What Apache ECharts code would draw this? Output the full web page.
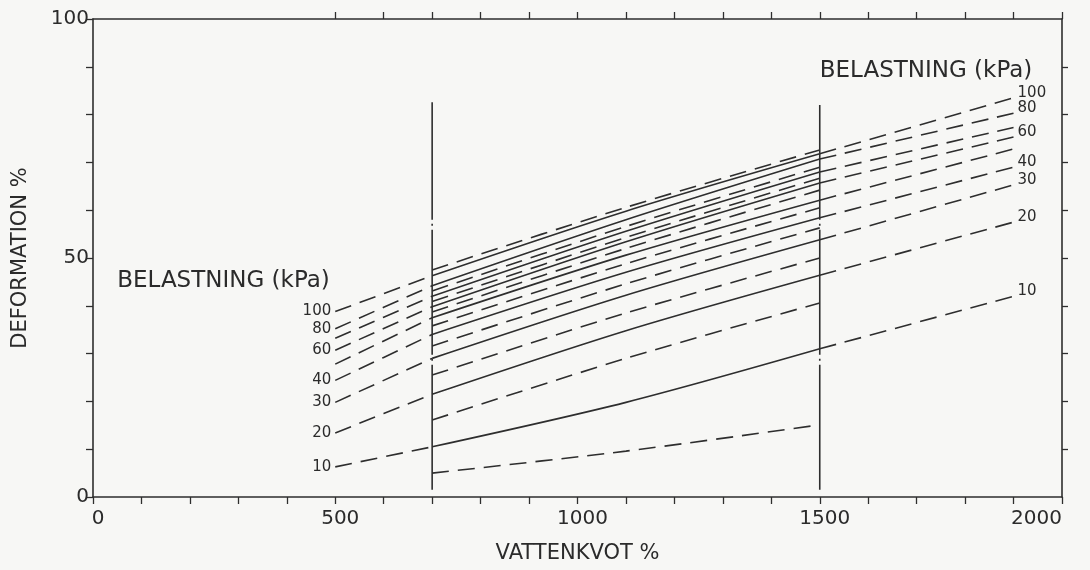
<!DOCTYPE html>
<html>
<head>
<meta charset="utf-8">
<script src="https://cdn.jsdelivr.net/npm/echarts@6/dist/echarts.min.js"></script>
<style>
  html, body { margin: 0; padding: 0; background: #f7f7f5; }
  #chart { width: 1090px; height: 570px; }
</style>
</head>
<body>
<div id="chart"></div>
<script>
// loads (kPa), bottom to top; unlabeled curves have an empty label
const loads = [10, 20, 30, 40, 50, 60, 70, 80, 100];
const loadLabels = ['10', '20', '30', '40', '', '60', '', '80', '100'];

// water content (%) where the pieces start / end
const wStart = 500, wIn = 700, wMid = 1100, wOut = 1500, wEnd = 1900;

// upper curves: dashed 500-700, solid 700-1500, dashed 1500-1900
const upAt500   = [6.3, 13.4, 19.8, 24.4, 27.8, 30.7, 33.2, 35.2, 38.8];
const solidAt700  = [10.5, 21.5, 29.0, 34.0, 37.5, 39.8, 42.0, 44.2, 46.3];
const solidAt1100 = [19.8, 34.8, 42.2, 47.0, 50.6, 53.4, 55.6, 58.0, 59.8];
const solidAt1500 = [31.0, 46.4, 53.8, 58.4, 62.1, 65.7, 68.0, 70.7, 71.8];
const upAt1900  = [42.0, 57.5, 65.3, 69.0, 72.8, 75.3, 77.3, 80.3, 83.5];

// lower dashed curves, 700-1500 only
const innerAt700  = [5.0, 16.1, 25.5, 31.6, 35.8, 38.7, 40.9, 43.1, 47.5];
const innerAt1100 = [9.6, 29.0, 38.5, 44.6, 48.8, 52.0, 54.3, 56.6, 60.6];
const innerAt1500 = [15.1, 40.6, 50.0, 56.3, 60.5, 64.2, 66.7, 69.0, 72.6];

// dash-dot limits at 700 and 1500
const limitX = [700, 1500];
const limitY = [[1.5, 82.6], [1.5, 82.0]];

const xTicks = [];
for (let v = 0; v <= 2000; v += 100) xTicks.push(v);
const xTopTicks = xTicks.filter(v => v >= 500);
const xLabels = [0, 500, 1000, 1500, 2000];
const yTicks = [0, 10, 20, 30, 40, 50, 60, 70, 80, 90, 100];
const yRightTicks = [10, 20, 30, 40, 50, 60, 70, 80, 90];
const yLabels = [0, 50, 100];

const ink = '#2e2e2e';
const textInk = '#2b2b2b';
const font = "'DejaVu Sans', sans-serif";
const dash = [17, 9];

function curve(data, type) {
  return {
    type: 'line', data: data, smooth: 0.3, symbol: 'none', silent: true,
    lineStyle: { color: ink, width: 1.6, type: type }
  };
}

const series = [];
loads.forEach((l, i) => {
  series.push(curve([[wStart, upAt500[i]], [wIn, solidAt700[i]]], dash));
  series.push(curve([[wIn, solidAt700[i]], [wMid, solidAt1100[i]], [wOut, solidAt1500[i]]], 'solid'));
  series.push(curve([[wOut, solidAt1500[i]], [wEnd, upAt1900[i]]], dash));
  series.push(curve([[wIn, innerAt700[i]], [wMid, innerAt1100[i]], [wOut, innerAt1500[i]]], dash));
});

limitX.forEach((x, i) => {
  series.push({
    type: 'line', symbol: 'none', silent: true,
    data: [[x, limitY[i][0]], [x, limitY[i][1]]],
    lineStyle: { color: ink, width: 1.6, type: [125, 4, 2, 4] }
  });
});

// load labels at both ends
const labelStyle = { show: true, color: textInk, fontFamily: font, fontSize: 15, formatter: p => p.value[2] };
series.push({
  type: 'scatter', symbolSize: 0, silent: true, itemStyle: { opacity: 1 },
  data: loads.map((l, i) => [wStart, upAt500[i], loadLabels[i]]).filter(d => d[2]),
  label: Object.assign({ position: 'left', distance: 4 }, labelStyle)
});
series.push({
  type: 'scatter', symbolSize: 0, silent: true, itemStyle: { opacity: 1 },
  data: loads.map((l, i) => [wEnd, upAt1900[i] + 1, loadLabels[i]]).filter(d => d[2]),
  label: Object.assign({ position: 'right', distance: 4 }, labelStyle)
});

// "BELASTNING (kPa)" headings
series.push({
  type: 'scatter', symbolSize: 0, silent: true, itemStyle: { opacity: 1 },
  data: [[50, 45.2, 'BELASTNING (kPa)'], [1500, 89.2, 'BELASTNING (kPa)']],
  label: { show: true, position: 'right', distance: 0, color: textInk, fontFamily: font, fontSize: 23, formatter: p => p.value[2] }
});

// keeps the top and right frame axes alive
series.push({ type: 'line', xAxisIndex: 1, yAxisIndex: 1, data: [[0, 0]], symbol: 'none', silent: true });

const axisLine = { show: true, onZero: false, lineStyle: { color: ink, width: 1.6 } };
const tickStyle = { color: ink, width: 1.3 };
const axisLabelStyle = { color: textInk, fontFamily: font, fontSize: 20, formatter: v => String(v) };
const nameStyle = { color: textInk, fontFamily: font, fontSize: 21 };

const chart = echarts.init(document.getElementById('chart'), null, { renderer: 'canvas' });
chart.setOption({
  animation: false,
  backgroundColor: '#f7f7f5',
  grid: { left: 93, right: 28, top: 19, bottom: 73 },
  xAxis: [
    {
      type: 'value', min: 0, max: 2000, position: 'bottom',
      axisLine: axisLine,
      axisTick: { show: true, customValues: xTicks, length: 7, lineStyle: tickStyle },
      axisLabel: Object.assign({ customValues: xLabels, margin: 12, padding: [0, 0, 0, 10], alignMaxLabel: 'right' }, axisLabelStyle),
      splitLine: { show: false },
      name: 'VATTENKVOT %', nameLocation: 'middle', nameGap: 46,
      nameTextStyle: nameStyle
    },
    {
      type: 'value', min: 0, max: 2000, position: 'top',
      axisLine: axisLine,
      axisTick: { show: true, customValues: xTopTicks, length: 7, lineStyle: tickStyle },
      axisLabel: { show: false },
      splitLine: { show: false }
    }
  ],
  yAxis: [
    {
      type: 'value', min: 0, max: 100, position: 'left',
      axisLine: axisLine,
      axisTick: { show: true, customValues: yTicks, length: 7, lineStyle: tickStyle },
      axisLabel: Object.assign({ customValues: yLabels, margin: 4 }, axisLabelStyle),
      splitLine: { show: false },
      name: 'DEFORMATION %', nameLocation: 'middle', nameGap: 62, nameRotate: 90,
      nameTextStyle: nameStyle
    },
    {
      type: 'value', min: 0, max: 100, position: 'right',
      axisLine: axisLine,
      axisTick: { show: true, customValues: yRightTicks, length: 6, lineStyle: tickStyle },
      axisLabel: { show: false },
      splitLine: { show: false }
    }
  ],
  series: series
});
</script>
</body>
</html>
